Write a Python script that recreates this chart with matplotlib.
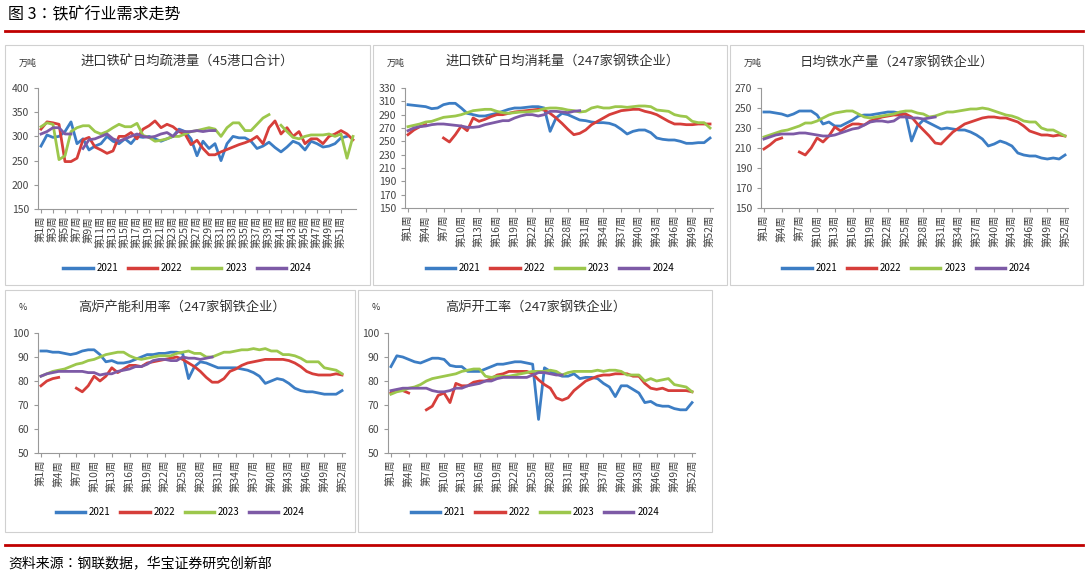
import numpy as np
import matplotlib
matplotlib.use("Agg")
import matplotlib.pyplot as plt
from matplotlib import font_manager
from matplotlib.lines import Line2D
from matplotlib.patches import Rectangle

_cjk = [f for f in font_manager.fontManager.ttflist if 'NotoSansCJK-Regular' in f.fname]
if _cjk:
    plt.rcParams['font.family'] = [_cjk[0].name, 'DejaVu Sans']
else:
    plt.rcParams['font.family'] = ['Noto Sans CJK SC', 'Noto Sans CJK JP', 'DejaVu Sans']

N = np.nan
years = ["2021", "2022", "2023", "2024"]
colors = ["#3C7DC4", "#D63E3A", "#9CC74C", "#7D5AA6"]

# Chart 1: 进口铁矿日均疏港量
port_2021 = [280,303,298,300,310,330,285,295,272,280,285,300,290,285,295,285,300,298,300,295,290,295,300,315,310,295,260,290,275,285,250,285,300,297,297,290,275,280,288,277,268,278,290,285,272,290,285,278,280,285,297,300]
port_2022 = [315,330,328,325,248,248,255,293,298,278,272,265,270,300,300,308,295,315,322,332,318,325,320,310,305,283,292,275,262,262,268,273,278,283,287,292,300,285,318,332,305,318,300,310,285,295,295,285,300,305,312,305,293]
port_2023 = [320,328,325,252,260,310,318,322,322,310,305,310,318,325,320,320,327,302,298,290,292,295,300,300,305,310,312,315,318,315,300,318,328,328,312,312,325,338,345,N,323,310,298,295,300,303,303,303,305,300,305,255,300]
port_2024 = [305,310,318,318,305,305,N,275,293,295,300,305,295,290,295,300,305,300,298,300,305,308,300,312,310,310,312,310,312,312]

# Chart 2: 进口铁矿日均消耗量
cons_2021 = [305,304,303,302,299,300,305,307,307,300,292,290,288,288,290,292,295,298,300,300,301,302,302,300,265,285,292,290,286,282,281,279,278,278,277,274,268,261,265,267,267,263,255,253,252,252,250,247,247,248,248,255]
cons_2022 = [260,267,272,275,N,N,255,249,260,273,266,285,280,283,287,290,290,292,294,295,296,297,298,297,292,285,277,268,260,262,267,275,280,285,290,293,296,297,298,298,295,293,290,285,280,276,276,275,275,276,276,276]
cons_2023 = [272,274,276,279,280,283,286,287,288,290,293,296,297,298,298,295,293,292,293,294,294,295,296,299,300,300,299,297,296,294,295,300,302,300,300,302,302,301,302,303,303,302,297,296,295,290,288,287,280,278,278,270]
cons_2024 = [266,270,272,273,275,276,276,275,274,273,271,271,272,275,277,279,281,281,285,288,290,290,288,290,295,295,294,293,295,296]

# Chart 3: 日均铁水产量
hm_2021 = [246,246,245,244,242,244,247,247,247,243,234,236,232,232,235,238,242,243,243,244,245,246,246,245,244,217,232,238,235,232,229,230,229,228,228,226,223,219,212,214,217,215,212,205,203,202,202,200,199,200,199,203]
hm_2022 = [209,213,218,220,N,N,206,203,210,220,216,222,231,227,231,234,234,233,237,239,241,242,243,243,244,241,234,228,222,215,214,220,226,230,234,236,238,240,241,241,240,240,238,236,232,227,225,223,223,222,223,222]
hm_2023 = [221,223,225,227,228,230,232,235,235,237,240,243,245,246,247,247,244,241,240,241,242,243,244,246,247,247,245,244,241,242,244,246,246,247,248,249,249,250,249,247,245,243,242,240,237,236,236,230,228,228,225,222]
hm_2024 = [219,221,223,224,224,224,225,225,224,223,222,222,223,225,227,229,230,233,236,237,237,236,237,241,241,240,240,239,240,241]

# Chart 4: 高炉产能利用率
cap_2021 = [92.5,92.5,92,92,91.5,91,91.5,92.5,93,93,91,88,88.5,87.5,87.5,88,89,90,91,91,91.5,91.5,92,92,91.5,81,86,88,87.5,86.5,85.5,85.5,85.5,85.5,85,84.5,83.5,82,79,80,81,80.5,79,77,76,75.5,75.5,75,74.5,74.5,74.5,76]
cap_2022 = [78,80,81,81.5,N,N,77,75.5,78,82,80,82,85.5,83.5,85,86.5,86.5,86,87.5,88,88.5,89,89.5,90,89,87.5,86,84,81.5,79.5,79.5,81,84,85,86.5,87.5,88,88.5,89,89,89,89,88.5,87.5,86,84,83,82.5,82.5,82.5,83,82.5]
cap_2023 = [82,83,84,84.5,85,86,87,87.5,88.5,89,90,91,91.5,92,92,90.5,89.5,89,89.5,90,90.5,90.5,90.5,91.5,92,92.5,91.5,91.5,90,90,91,92,92,92.5,93,93,93.5,93,93.5,92.5,92.5,91,91,90.5,89.5,88,88,88,85.5,85,84.5,83]
cap_2024 = [82,83,83.5,84,84,84,84,84,83.5,83.5,82.5,83,83,84,84.5,85,86,86,87,88.5,89,89,88.5,88.5,90,89.5,89.5,89,89.5,90]

# Chart 5: 高炉开工率
op_2021 = [86,90.5,90,89,88,87.5,88.5,89.5,89.5,89,86.5,86,86,84,84,84,85,86,87,87,87.5,88,88,87.5,87,64,85.5,84,83,82,82,83,81,81.5,81.5,81,79,77.5,73.5,78,78,76.5,75,71,71.5,70,69.5,69.5,68.5,68,68,71]
op_2022 = [75,76,76,75,N,N,68,69.5,74,75,71,79,78,78,79.5,80,80,81,82.5,83,84,84,84,84,83,80.5,78.5,77,73,72,73,76,78,80,81,82,82.5,82.5,83,83,83,82,82,79,77,76.5,77,76,76,76,76,75.5]
op_2023 = [74.5,75.5,76,77,77.5,78.5,80,81,81.5,82,82.5,83,84,84.5,85,85,82,81.5,82,82,82,82.5,83,83.5,84,84,84,84.5,84,82.5,83.5,84,84,84,84,84.5,84,84.5,84.5,84,82.5,82.5,82.5,80,81,80,80.5,81,78.5,78,77.5,75.5]
op_2024 = [76,76.5,77,77,77,77,77,76,75.5,75.5,76,77,77,78,78.5,79,80,80,81,81.5,81.5,81.5,81.5,81.5,82.5,83.5,83.5,83,82.5,82.5]

W, H = 1088, 578
fig = plt.figure(figsize=(W/100, H/100), dpi=100)

def px(x0, y0, x1, y1):
    return [x0/W, 1-y1/H, (x1-x0)/W, (y1-y0)/H]

fig.text(8/W, 1-15/H, "图 3：铁矿行业需求走势", fontsize=11.5, va='center', ha='left')
fig.add_artist(Line2D([5/W, 1083/W], [1-31/H]*2, color="#C00000", lw=2))
fig.add_artist(Line2D([5/W, 1083/W], [1-545/H]*2, color="#C00000", lw=2))
fig.text(8/W, 1-563/H, "资料来源：钢联数据，华宝证券研究创新部", fontsize=10, va='center', ha='left')

panels = [
    dict(box=(5,45,370,285), ax=(38,88,356,209), title="进口铁矿日均疏港量（45港口合计）", unit="万吨",
         data=[port_2021,port_2022,port_2023,port_2024], ylim=(150,400), yt=np.arange(150,401,50), step=2, nw=53, tx=80, leg=268),
    dict(box=(373,45,727,285), ax=(405,88,713,208), title="进口铁矿日均消耗量（247家钢铁企业）", unit="万吨",
         data=[cons_2021,cons_2022,cons_2023,cons_2024], ylim=(150,330), yt=np.arange(150,331,20), step=3, nw=52, tx=445, leg=268),
    dict(box=(730,45,1083,285), ax=(761,88,1068,208), title="日均铁水产量（247家钢铁企业）", unit="万吨",
         data=[hm_2021,hm_2022,hm_2023,hm_2024], ylim=(150,270), yt=np.arange(150,271,20), step=3, nw=52, tx=800, leg=268),
    dict(box=(5,290,355,532), ax=(38,333,345,453), title="高炉产能利用率（247家钢铁企业）", unit="%",
         data=[cap_2021,cap_2022,cap_2023,cap_2024], ylim=(50,100), yt=np.arange(50,101,10), step=3, nw=52, tx=78, leg=512),
    dict(box=(358,290,712,532), ax=(388,333,695,453), title="高炉开工率（247家钢铁企业）", unit="%",
         data=[op_2021,op_2022,op_2023,op_2024], ylim=(50,100), yt=np.arange(50,101,10), step=3, nw=52, tx=445, leg=512),
]

for p in panels:
    bx = p['box']
    fig.add_artist(Rectangle((bx[0]/W, 1-bx[3]/H), (bx[2]-bx[0])/W, (bx[3]-bx[1])/H,
                             fill=False, ec="#D0D0D0", lw=0.8, transform=fig.transFigure))
    fig.text(p['tx']/W, 1-(bx[1]+17)/H, p['title'], fontsize=9.5, va='center', ha='left', color="#333333")
    fig.text((bx[0]+14)/W, 1-(bx[1]+18)/H, p['unit'], fontsize=6.5, va='center', ha='left', color="#333333")
    ax = fig.add_axes(px(*p['ax']))
    nw = p['nw']
    x = np.arange(1, nw + 1)
    for d, c in zip(p['data'], colors):
        arr = np.array(d, dtype=float)
        ax.plot(x[:len(arr)], arr, color=c, lw=2)
    ax.set_xlim(0.5, nw + 0.5)
    ax.set_ylim(*p['ylim'])
    ax.set_yticks(p['yt'])
    ticks = list(range(1, 53, p['step']))
    ax.set_xticks(ticks)
    ax.set_xticklabels([f"第{t}周" for t in ticks], rotation=90, fontsize=7.5, color="#444444")
    ax.tick_params(axis='y', labelsize=7.5, colors="#444444", length=3, color="#999999")
    ax.tick_params(axis='x', length=3, color="#999999", pad=2)
    for s in ['top', 'right']:
        ax.spines[s].set_visible(False)
    for s in ['left', 'bottom']:
        ax.spines[s].set_color("#999999")
        ax.spines[s].set_linewidth(0.8)
    handles = [Line2D([], [], color=c, lw=2.5) for c in colors]
    cx = (bx[0]+bx[2])/2
    fig.legend(handles, years, loc='center', bbox_to_anchor=(cx/W, 1-p['leg']/H), ncol=4,
               frameon=False, fontsize=7, handlelength=3, columnspacing=1.0, handletextpad=0.4)

fig.savefig("out.png", dpi=100)
